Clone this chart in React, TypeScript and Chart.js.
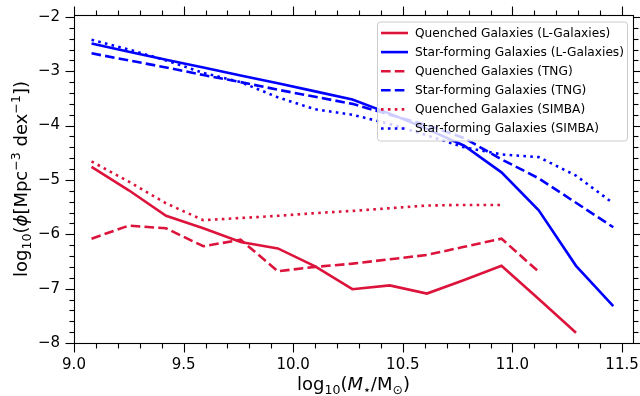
import React, { useEffect, useRef } from "react";
import { Chart, registerables } from "chart.js";
Chart.register(...registerables);

// ---- data ----
const massBins = [9.08, 9.25, 9.42, 9.59, 9.76, 9.93, 10.1, 10.27, 10.44, 10.61, 10.78, 10.95, 11.12, 11.29, 11.46];

const quenchedLGal = [-4.76, -5.19, -5.66, -5.89, -6.14, -6.26, -6.59, -7.01, -6.94, -7.09, -6.84, -6.58, -7.19, -7.81];
const starFormingLGal = [-2.49, -2.64, -2.79, -2.93, -3.08, -3.22, -3.37, -3.52, -3.78, -4.06, -4.37, -4.86, -5.56, -6.58, -7.32];
const quenchedTNG = [-6.08, -5.84, -5.89, -6.22, -6.10, -6.68, -6.60, -6.54, -6.46, -6.38, -6.23, -6.08, -6.69];
const starFormingTNG = [-2.67, -2.80, -2.93, -3.07, -3.20, -3.34, -3.47, -3.60, -3.80, -3.99, -4.23, -4.62, -4.97, -5.42, -5.87];
const quenchedSIMBA = [-4.66, -5.03, -5.43, -5.74, -5.70, -5.66, -5.61, -5.57, -5.52, -5.47, -5.46, -5.46];
const starFormingSIMBA = [-2.42, -2.60, -2.80, -3.03, -3.20, -3.48, -3.70, -3.80, -3.97, -4.18, -4.40, -4.53, -4.58, -4.92, -5.43];

const seriesLabels = [
  "Quenched Galaxies (L-Galaxies)",
  "Star-forming Galaxies (L-Galaxies)",
  "Quenched Galaxies (TNG)",
  "Star-forming Galaxies (TNG)",
  "Quenched Galaxies (SIMBA)",
  "Star-forming Galaxies (SIMBA)",
];

const xTickValues = [9.0, 9.5, 10.0, 10.5, 11.0, 11.5];
const yTickValues = [-8, -7, -6, -5, -4, -3, -2];

// ---- styles ----
const RED = "#DC143C";
const BLUE = "#0000FF";
const LW = 2.6;
const DASH = [9.6, 4.2];
const DOT = [2.6, 4.3];
const FONT = '"DejaVu Sans", sans-serif';

const seriesValues = [quenchedLGal, starFormingLGal, quenchedTNG, starFormingTNG, quenchedSIMBA, starFormingSIMBA];
const seriesColors = [RED, BLUE, RED, BLUE, RED, BLUE];
const seriesDash = [[], [], DASH, DASH, DOT, DOT];

type Run = { t: string; italic?: boolean; sub?: boolean; sup?: boolean };

function drawRich(ctx: CanvasRenderingContext2D, runs: Run[], cx: number, cy: number, size: number, rotate: boolean) {
  ctx.save();
  ctx.translate(cx, cy);
  if (rotate) ctx.rotate(-Math.PI / 2);
  const fontFor = (r: Run) => `${r.italic ? "italic " : ""}${r.sub || r.sup ? size * 0.7 : size}px ${FONT}`;
  let total = 0;
  const widths = runs.map((r) => {
    ctx.font = fontFor(r);
    const w = ctx.measureText(r.t).width;
    total += w;
    return w;
  });
  let x = -total / 2;
  ctx.textBaseline = "alphabetic";
  ctx.textAlign = "left";
  ctx.fillStyle = "#000";
  runs.forEach((r, i) => {
    ctx.font = fontFor(r);
    const dy = r.sub ? size * 0.22 : r.sup ? -size * 0.42 : 0;
    ctx.fillText(r.t, x, size * 0.36 + dy);
    x += widths[i];
  });
  ctx.restore();
}

const frameAndLabels = {
  id: "frameAndLabels",
  afterDatasetsDraw(chart: any) {
    const { ctx, chartArea } = chart;
    const { right, top } = chartArea;
    // legend
    const lx = right - 256;
    const ly = top + 6.5;
    const lw = 250;
    const lh = 119;
    ctx.save();
    ctx.beginPath();
    (ctx as any).roundRect(lx + 0.5, ly + 0.5, lw, lh, 3);
    ctx.fillStyle = "rgba(255,255,255,0.8)";
    ctx.fill();
    ctx.strokeStyle = "#cccccc";
    ctx.lineWidth = 1;
    ctx.stroke();
    ctx.font = `12.2px ${FONT}`;
    ctx.textBaseline = "middle";
    ctx.textAlign = "left";
    seriesLabels.forEach((lab, i) => {
      const yy = ly + 11.5 + i * 19.1;
      ctx.beginPath();
      ctx.setLineDash(seriesDash[i]);
      ctx.lineDashOffset = 0;
      ctx.strokeStyle = seriesColors[i];
      ctx.lineWidth = LW;
      ctx.lineCap = "butt";
      ctx.moveTo(lx + 4, yy);
      ctx.lineTo(lx + 31, yy);
      ctx.stroke();
      ctx.setLineDash([]);
      ctx.fillStyle = "#000";
      ctx.fillText(lab, lx + 38, yy + 0.5);
    });
    ctx.restore();
  },
  afterDraw(chart: any) {
    const { ctx, chartArea, scales } = chart;
    const { left, right, top, bottom } = chartArea;
    const xs = scales.x;
    const ys = scales.y;
    ctx.save();
    ctx.strokeStyle = "#000";
    ctx.lineWidth = 1.1;
    ctx.strokeRect(left + 0.5, top + 0.5, right - left, bottom - top);
    const MAJ = 9;
    const MIN = 5;
    const tick = (x1: number, y1: number, x2: number, y2: number) => {
      ctx.beginPath();
      ctx.moveTo(x1, y1);
      ctx.lineTo(x2, y2);
      ctx.stroke();
    };
    for (let i = 90; i <= 115; i++) {
      const v = i / 10;
      const px = Math.round(xs.getPixelForValue(v)) + 0.5;
      const len = i % 5 === 0 ? MAJ : MIN;
      tick(px, bottom + 0.5, px, bottom + 0.5 + len);
      tick(px, top + 0.5, px, top + 0.5 - len);
    }
    for (let i = -40; i <= -10; i++) {
      const v = i / 5;
      const py = Math.round(ys.getPixelForValue(v)) + 0.5;
      const len = i % 5 === 0 ? MAJ : MIN;
      tick(left + 0.5, py, left + 0.5 - len, py);
      tick(right + 0.5, py, right + 0.5 + len, py);
    }
    ctx.restore();

    // axis titles
    drawRich(
      ctx,
      [
        { t: "log" },
        { t: "10", sub: true },
        { t: "(" },
        { t: "M", italic: true },
        { t: "\u22c6", sub: true },
        { t: "/M" },
        { t: "\u2299", sub: true },
        { t: ")" },
      ],
      (left + right) / 2,
      384,
      18,
      false
    );
    drawRich(
      ctx,
      [
        { t: "log" },
        { t: "10", sub: true },
        { t: "(" },
        { t: "\u03d5", italic: true },
        { t: "[Mpc" },
        { t: "\u22123", sup: true },
        { t: " dex" },
        { t: "\u22121", sup: true },
        { t: "])" },
      ],
      21,
      (top + bottom) / 2,
      18,
      true
    );
  },
};

export default function App() {
  const ref = useRef<HTMLCanvasElement>(null);
  useEffect(() => {
    const datasets = seriesValues.map((vals, i) => ({
      label: seriesLabels[i],
      data: vals.map((v, j) => ({ x: massBins[j], y: v })),
      borderColor: seriesColors[i],
      backgroundColor: seriesColors[i],
      borderWidth: LW,
      borderDash: seriesDash[i],
      borderCapStyle: "butt" as const,
      pointRadius: 0,
      fill: false,
      tension: 0,
    }));
    const chart = new Chart(ref.current!, {
      type: "line",
      data: { datasets },
      options: {
        animation: false,
        responsive: false,
        devicePixelRatio: 1,
        layout: { padding: { left: 0, right: 7, top: 15, bottom: 0 } },
        plugins: { legend: { display: false }, tooltip: { enabled: false } },
        scales: {
          x: {
            type: "linear",
            min: 9.0,
            max: 11.55,
            grid: { display: false, drawTicks: false },
            border: { display: false },
            afterFit: (s: any) => {
              s.height = 53;
              s.paddingLeft = 0;
              s.paddingRight = 0;
            },
            afterBuildTicks: (s: any) => {
              s.ticks = xTickValues.map((v) => ({ value: v }));
            },
            ticks: {
              padding: 13,
              maxRotation: 0,
              autoSkip: false,
              color: "#000",
              font: { family: FONT, size: 15 },
              callback: (v: any) => Number(v).toFixed(1),
            },
          },
          y: {
            type: "linear",
            min: -8,
            max: -1.965,
            grid: { display: false, drawTicks: false },
            border: { display: false },
            afterFit: (s: any) => {
              s.width = 74;
              s.paddingTop = 0;
              s.paddingBottom = 0;
            },
            afterBuildTicks: (s: any) => {
              s.ticks = yTickValues.map((v) => ({ value: v }));
            },
            ticks: {
              padding: 14,
              autoSkip: false,
              color: "#000",
              font: { family: FONT, size: 15 },
              callback: (v: any) => (Number(v) < 0 ? "\u2212" + Math.abs(Number(v)) : String(v)),
            },
          },
        },
      },
      plugins: [frameAndLabels],
    });
    return () => chart.destroy();
  }, []);
  return (
    <div style={{ position: "fixed", left: 0, top: 0, width: 640, height: 396, background: "#fff" }}>
      <canvas ref={ref} width={640} height={396} style={{ width: 640, height: 396, display: "block" }} />
    </div>
  );
}
